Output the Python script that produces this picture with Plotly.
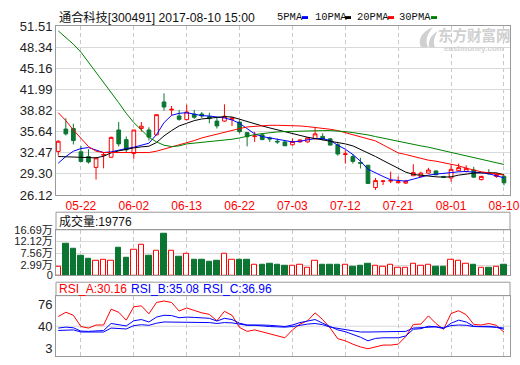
import plotly.graph_objects as go

# ---------------- data ----------------
dates = ["05-17","05-18","05-19","05-22","05-23","05-24","05-25","05-26","05-31","06-01",
         "06-02","06-05","06-06","06-07","06-08","06-09","06-12","06-13","06-14","06-15",
         "06-16","06-19","06-20","06-21","06-22","06-23","06-26","06-27","06-28","06-29",
         "06-30","07-03","07-04","07-05","07-06","07-07","07-10","07-11","07-12","07-13",
         "07-14","07-17","07-18","07-19","07-20","07-21","07-24","07-25","07-26","07-27",
         "07-28","07-31","08-01","08-02","08-03","08-04","08-07","08-08","08-09","08-10"]

opens  = [32.66,36.03,36.12,32.61,31.89,30.26,32.10,31.79,35.89,34.44,
          32.37,36.12,35.89,35.16,40.11,38.90,38.00,37.44,38.28,38.30,
          37.90,37.23,37.23,37.50,37.08,35.50,34.90,35.16,34.70,34.20,
          34.10,33.67,34.10,34.10,34.56,34.93,34.56,33.67,32.20,31.89,
          31.00,30.59,27.23,28.18,28.20,27.95,27.90,29.01,28.90,29.40,
          29.73,28.90,28.67,29.77,29.66,29.87,28.43,29.50,28.90,28.91]
highs  = [34.34,37.66,36.84,33.48,33.00,31.72,32.43,34.90,37.08,34.92,
          35.90,37.08,36.30,38.20,41.41,39.50,38.90,39.72,38.92,38.60,
          38.50,37.81,39.75,37.80,37.33,35.50,35.60,35.40,34.90,34.60,
          34.20,34.63,34.50,34.80,36.22,35.40,34.68,33.90,32.86,32.28,
          31.70,30.59,28.67,28.30,29.63,28.90,28.40,30.74,29.60,30.20,
          29.80,29.00,30.74,30.84,30.59,30.35,29.00,30.00,29.40,29.15]
lows   = [32.04,35.07,33.72,31.03,30.84,28.43,30.12,31.70,33.40,32.51,
          31.56,35.63,34.30,35.10,38.80,38.10,37.30,37.40,37.56,37.70,
          36.90,36.12,37.15,36.50,35.40,33.43,34.10,34.35,34.10,33.80,
          33.50,33.58,34.00,34.00,34.50,34.35,33.58,32.03,30.84,30.84,
          30.10,27.85,26.89,27.60,27.90,27.90,27.80,29.00,28.80,29.35,
          29.10,28.70,28.10,29.70,29.50,28.70,28.30,29.20,28.70,27.56]
closes = [34.20,35.31,34.30,31.17,31.07,31.70,32.20,34.78,33.80,32.90,
          35.89,36.46,34.82,38.20,39.35,39.00,37.50,38.60,37.81,38.00,
          37.60,36.51,37.95,37.70,35.64,34.88,35.00,34.45,34.55,34.10,
          33.52,34.16,34.39,34.70,35.31,34.49,33.62,32.28,32.30,31.17,
          30.90,27.85,28.28,28.22,28.30,28.10,28.20,29.48,29.40,29.87,
          29.15,28.80,29.97,30.23,30.12,28.79,28.91,29.30,29.20,27.95]

ma5  = [30.9,31.9,32.7,33.1,33.25,32.9,32.5,32.6,32.9,33.1,
        33.3,33.55,33.9,35.2,37.0,38.1,38.4,38.5,38.25,38.05,
        38.0,37.9,37.7,37.4,36.9,36.1,35.3,34.9,34.7,34.45,
        34.2,34.1,34.2,34.45,34.6,34.6,34.3,33.6,33.0,32.2,
        31.2,30.0,29.4,28.9,28.4,28.25,28.2,28.5,28.8,29.1,
        29.25,29.4,29.5,29.6,29.65,29.6,29.45,29.3,29.05,28.7]
ma10 = [31.9,31.85,31.8,31.8,31.75,31.7,31.95,32.45,32.75,33.0,
        33.2,33.35,33.45,34.0,35.0,35.8,36.5,36.9,37.3,37.55,
        37.7,37.8,37.9,37.85,37.5,37.1,36.8,36.5,36.2,35.9,
        35.6,35.3,35.0,34.8,34.6,34.4,34.3,34.1,33.8,33.5,
        33.0,32.5,31.9,31.3,30.7,30.1,29.55,29.2,29.05,28.9,
        28.85,28.8,28.85,29.1,29.3,29.4,29.45,29.5,29.45,29.15]
ma20 = [38.5,37.3,35.9,34.7,33.4,32.7,32.5,32.5,32.5,32.5,
        32.5,32.5,32.5,32.7,33.0,33.3,33.6,33.9,34.3,34.7,
        35.0,35.3,35.6,35.9,36.1,36.35,36.45,36.55,36.6,36.6,
        36.6,36.55,36.5,36.4,36.3,36.15,36.0,35.8,35.5,35.2,
        34.9,34.65,34.25,33.65,33.0,32.45,32.2,31.9,31.6,31.35,
        31.2,31.0,30.75,30.5,30.15,29.85,29.6,29.45,29.3,29.1]
ma30 = [50.8,49.8,48.8,47.6,46.1,44.6,43.0,41.5,40.0,38.4,
        37.0,35.9,34.8,34.1,33.6,33.4,33.5,33.8,33.9,34.0,
        34.1,34.2,34.4,34.5,34.7,35.0,35.2,35.35,35.5,35.6,
        35.65,35.7,35.75,35.8,35.8,35.8,35.8,35.75,35.65,35.5,
        35.35,35.15,34.9,34.65,34.45,34.2,34.0,33.75,33.5,33.3,
        33.05,32.8,32.55,32.3,32.05,31.8,31.5,31.25,31.0,30.7]

volume = [2.47,11.36,9.29,6.80,5.43,4.58,4.95,4.58,9.88,5.80,
          8.92,10.77,6.69,8.55,15.30,8.55,6.43,7.43,5.21,5.21,
          4.21,4.58,7.43,4.95,5.21,5.21,2.99,2.99,3.73,2.99,
          2.73,2.73,2.99,2.10,4.84,3.36,2.99,2.99,3.36,2.36,
          2.73,3.73,2.73,2.36,2.99,1.88,1.88,3.73,2.73,3.36,
          2.36,2.36,5.21,4.58,3.73,2.99,1.88,1.88,2.36,2.99]

rsi_a = [56,63,58,39.5,37,42,42,68,63,50,
         72,73.5,60.5,79,81.5,79,65,70,66,62,
         59.5,49,64.5,58,38,31.5,34,30.5,27.5,24,
         21,34,43.5,49,62,51,37,19.5,16,10.5,
         6,3,5.5,9,9,10.5,23,43,43.5,57,
         44.5,35,61,65.5,59,43,42,44.5,41.5,30.16]
rsi_b = [37,38.5,37.5,32,31.5,32,33,44.5,42,40.5,
         49,51,47,55,58,57.5,54,55,54.5,53.5,
         53,48.5,53,51,45,42,42.5,42,41.5,41,
         39.5,42,46,48.5,51,45,39.5,34,31,27,
         22,16,20,21,21,21,24,35,36,40,
         39,36,45,50,47,40,39.5,40,38,35.08]
rsi_c = [33,34,34,30.5,30.5,30.5,30.5,37,36,35.5,
         41,42.5,41.5,45,47,47,46,46.5,46.5,46,
         46,44.5,46,45.5,43,41.5,41.5,40,39.5,39,
         38.5,39.5,42,43.5,44.5,42.5,38.5,36.5,34,31.5,
         30.5,30.5,30.5,30.5,30.5,30.5,31.5,37,37.5,39,
         39,37.5,41,42,41.5,39.5,39.5,39.5,38.5,36.96]

date_ticks = ["05-22","06-02","06-13","06-22","07-03","07-12","07-21","08-01","08-10"]
price_ticks = [26.12, 29.30, 32.47, 35.64, 38.82, 41.99, 45.16, 48.34, 51.51]
price_labels = ["26.12","29.30","32.47","35.64","38.82","41.99","45.16","48.34","51.51"]
vol_floor = -0.97          # value at the bottom edge of the volume panel (labelled "0")
vol_ticks = [vol_floor, 2.99, 7.56, 12.12, 16.69]
vol_labels = ["0", "2.99万", "7.56万", "12.12万", "16.69万"]
rsi_ticks = [3, 40, 76]
rsi_labels = ["3", "40", "76"]

title_text = "通合科技[300491] 2017-08-10 15:00"
ma_names = ["5PMA", "10PMA", "20PMA", "30PMA"]
vol_header = "成交量:19776"
rsi_header = ["RSI_A:30.16", "RSI_B:35.08", "RSI_C:36.96"]

# ---------------- style ----------------
W, H = 520, 365
ML, MR = 56, 10
RED = "#ff0000"
GREEN = "#0b7532"
BLUE = "#0000ff"
MA_COLORS = [BLUE, "#000000", RED, "#008000"]
BORDER = "#9a9a9a"
GRID = "#d9d9d9"
VGRID = "#c8c8c8"
WM = "#d0d0d0"
FONT = "Liberation Sans, Noto Sans CJK SC, sans-serif"
MONO = "Liberation Mono, DejaVu Sans Mono, monospace"

def px(x):
    return (x - ML) / (W - ML - MR)

def py(y):
    return 1 - y / H

fig = go.Figure()

fig.add_trace(go.Candlestick(
    x=dates, open=opens, high=highs, low=lows, close=closes,
    increasing=dict(line=dict(color=RED, width=1), fillcolor="white"),
    decreasing=dict(line=dict(color=GREEN, width=1), fillcolor=GREEN),
    whiskerwidth=0, xaxis="x", yaxis="y", showlegend=False, hoverinfo="skip"))

for vals, col in zip([ma5, ma10, ma20, ma30], MA_COLORS):
    fig.add_trace(go.Scatter(x=dates, y=vals, mode="lines", line=dict(color=col, width=1),
                             xaxis="x", yaxis="y", showlegend=False, hoverinfo="skip"))

up = [c >= o for o, c in zip(opens, closes)]
fig.add_trace(go.Bar(
    x=dates, y=[v - vol_floor for v in volume], base=vol_floor,
    xaxis="x2", yaxis="y2", width=0.72,
    marker=dict(color=["white" if u else GREEN for u in up],
                line=dict(color=[RED if u else GREEN for u in up], width=1)),
    showlegend=False, hoverinfo="skip"))

for vals, col in zip([rsi_a, rsi_b, rsi_c], [RED, BLUE, BLUE]):
    fig.add_trace(go.Scatter(x=dates, y=vals, mode="lines", line=dict(color=col, width=1),
                             xaxis="x3", yaxis="y3", showlegend=False, hoverinfo="skip"))

xcommon = dict(type="category", range=[-0.3, len(dates) - 0.2], tickvals=date_ticks,
               ticktext=date_ticks, showgrid=True, gridcolor=VGRID, griddash="4px,3px",
               gridwidth=1, showline=True, mirror=True, linecolor=BORDER, linewidth=1,
               ticks="", fixedrange=True, zeroline=False)

main_dom = [py(196), py(20)]
vol_dom = [py(280), py(232.3)]
rsi_dom = [py(364), py(301)]

fig.update_layout(
    width=W, height=H,
    margin=dict(l=ML, r=MR, t=0, b=0, pad=0),
    paper_bgcolor="white", plot_bgcolor="white",
    font=dict(family=FONT, size=12, color="#222"),
    showlegend=False,
    bargap=0,
    xaxis=dict(xcommon, anchor="y", showticklabels=True,
               tickfont=dict(color=RED, size=12, family=FONT),
               rangeslider=dict(visible=False)),
    xaxis2=dict(xcommon, anchor="y2", matches="x", showticklabels=False),
    xaxis3=dict(xcommon, anchor="y3", matches="x", showticklabels=False),
    yaxis=dict(domain=main_dom, range=[price_ticks[0], price_ticks[-1]], tickvals=price_ticks,
               ticktext=price_labels, showgrid=True, gridcolor=GRID, showline=True, mirror=True,
               linecolor=BORDER, ticks="", zeroline=False, fixedrange=True,
               tickfont=dict(size=13, color="#222")),
    yaxis2=dict(domain=vol_dom, range=[vol_floor, vol_ticks[-1]], tickvals=vol_ticks,
                ticktext=vol_labels, showgrid=True, gridcolor=GRID, showline=True, mirror=True,
                linecolor=BORDER, ticks="", zeroline=False, fixedrange=True,
                tickfont=dict(size=11, color="#222")),
    yaxis3=dict(domain=rsi_dom, range=[-9, 90.3], tickvals=rsi_ticks, ticktext=rsi_labels,
                showgrid=False, showline=True, mirror=True, linecolor=BORDER,
                ticks="", zeroline=False, fixedrange=True, tickfont=dict(size=13, color="#222")),
)

shapes = []
# header boxes
shapes.append(dict(type="rect", xref="paper", yref="paper", x0=0, x1=1, y0=py(232.3), y1=py(214),
                   line=dict(color=BORDER, width=1), fillcolor="rgba(0,0,0,0)"))
shapes.append(dict(type="rect", xref="paper", yref="paper", x0=0, x1=1, y0=py(301), y1=py(287),
                   line=dict(color=BORDER, width=1), fillcolor="rgba(0,0,0,0)"))
# RSI 40 line
shapes.append(dict(type="line", xref="x3 domain", yref="y3", x0=0, x1=1, y0=40, y1=40,
                   line=dict(color=GRID, width=1), layer="below"))
# legend swatches
legend_x = [275, 313, 355, 397]
swatch_x = [302, 345, 388, 431]
for sx, col in zip(swatch_x, MA_COLORS):
    shapes.append(dict(type="rect", xref="paper", yref="paper", x0=px(sx), x1=px(sx + 6),
                       y0=py(12.5), y1=py(9.5), line=dict(width=0), fillcolor=col))

# watermark logo (two light swooshes)
def pathstr(cmds):
    out = []
    for c in cmds:
        if isinstance(c, str):
            out.append(c)
        else:
            out.append("%.5f,%.5f" % (px(c[0]), py(c[1])))
    return " ".join(out)

logo1 = pathstr(["M", (421, 42), "C", (417, 33), (423, 25), (433, 21),
                 "C", (427, 28), (425, 35), (428, 42), "Z"])
logo2 = pathstr(["M", (429, 42), "C", (428, 35), (431, 29), (438, 25),
                 "C", (434, 31), (433, 36), (435, 42), "Z"])
for p in (logo1, logo2):
    shapes.append(dict(type="path", xref="paper", yref="paper", path=p,
                       fillcolor=WM, line=dict(width=0)))
fig.update_layout(shapes=shapes)

ann = []
ann.append(dict(text=title_text, xref="paper", yref="paper", x=px(57), y=py(10.5),
                xanchor="left", yanchor="middle", showarrow=False,
                font=dict(size=12.2, color="#111", family=FONT)))
for lx, name in zip(legend_x, ma_names):
    ann.append(dict(text=name, xref="paper", yref="paper", x=px(lx), y=py(10.5),
                    xanchor="left", yanchor="middle", showarrow=False,
                    font=dict(size=10.5, color="#111", family=MONO)))
ann.append(dict(text="<b>东方财富网</b>", xref="paper", yref="paper", x=px(474), y=py(28.5),
                xanchor="center", yanchor="middle", showarrow=False,
                font=dict(size=14.5, color=WM, family="Noto Sans CJK SC")))
ann.append(dict(text="<b>eastmoney.com</b>", xref="paper", yref="paper", x=px(474), y=py(43),
                xanchor="center", yanchor="middle", showarrow=False,
                font=dict(size=8, color=WM, family=FONT)))
ann.append(dict(text=vol_header, xref="paper", yref="paper", x=px(57), y=py(223.5),
                xanchor="left", yanchor="middle", showarrow=False,
                font=dict(size=12, color="#111", family=FONT)))
for hx, txt, col in zip([57, 129, 201], rsi_header, [RED, BLUE, BLUE]):
    ann.append(dict(text=txt, xref="paper", yref="paper", x=px(hx), y=py(294),
                    xanchor="left", yanchor="middle", showarrow=False,
                    font=dict(size=12, color=col, family=FONT)))
fig.update_layout(annotations=ann)

fig.write_html("out.html", config={"displayModeBar": False},
               post_script="document.body.style.margin='0';document.body.style.padding='0';document.documentElement.style.overflow='hidden';")
